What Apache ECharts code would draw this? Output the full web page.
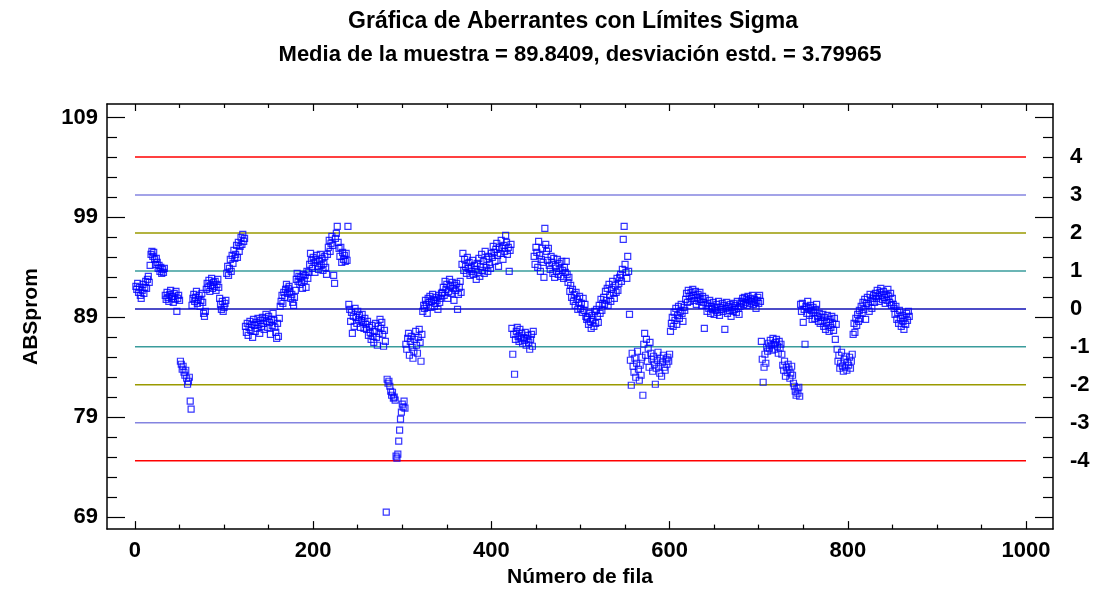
<!DOCTYPE html>
<html>
<head>
<meta charset="utf-8">
<script src="https://cdn.jsdelivr.net/npm/echarts@6.0.0/dist/echarts.min.js"></script>
<style>
  html, body { margin: 0; padding: 0; background: #fff; }
  #chart { width: 1095px; height: 593px; }
</style>
</head>
<body>
<div id="chart"></div>
<script>
// ABSprom por número de fila (fila = posición en la lista, empezando en 1)
const filas001a102 = [
  92.1, 91.8, 92.4, 91.5, 92.0, 91.2, 90.9, 91.7, 92.3, 91.4, 92.0, 92.6, 91.9, 92.8, 93.1, 92.5,
  94.2, 95.3, 95.6, 95.1, 95.5, 94.8, 94.3, 94.9, 94.5, 93.9, 94.2, 93.6, 94.0, 93.4, 93.8, 93.5, 93.9,
  91.2, 90.8, 91.5, 91.0, 90.6, 91.3, 91.7, 90.9, 91.1, 90.5, 91.4, 90.8, 91.6, 89.6, 90.9, 91.2, 90.7,
  84.6, 84.3, 83.8, 84.1, 83.5, 83.2, 83.7, 82.9, 82.3, 82.6, 83.0,
  80.6, 79.8,
  90.2, 90.9, 91.3, 90.6, 91.0, 91.6, 90.4, 90.8, 91.2, 90.1, 90.7, 91.4, 90.5, 89.4, 89.1, 89.6,
  91.8, 92.4, 92.0, 92.7, 91.6, 92.2, 92.9, 91.9, 92.5, 92.1, 92.6, 91.7, 92.3, 92.8, 92.0,
  90.9, 90.3, 89.8, 90.6, 89.6, 90.0, 90.4, 90.7
];
const filas103a239 = [
  93.4, 94.1, 93.2, 93.9, 94.8, 93.6, 95.2, 94.4, 95.7, 94.9, 95.3, 96.2, 95.0, 96.5, 95.6, 96.1, 97.0, 96.3, 97.3, 96.6, 96.9,
  88.1, 87.5, 88.4, 87.2, 88.0, 88.6, 87.7, 88.3, 87.0, 88.8, 88.2, 87.6, 88.5, 87.9, 88.9, 88.3, 87.4, 88.7, 88.1, 89.0,
  88.4, 87.8, 88.9, 89.3, 88.6, 88.0, 89.1, 88.5, 87.3, 88.8, 88.2, 89.4, 88.7, 88.0, 87.5, 86.9, 88.4, 87.1, 88.9,
  90.1, 90.6, 91.2, 90.4, 91.5, 91.0, 91.8, 92.3, 91.4, 91.9, 92.1, 91.6, 90.9, 91.3, 90.5, 90.2, 91.0, 91.7,
  92.8, 93.4, 92.6, 93.1, 92.3, 93.0, 92.5, 91.9, 93.3, 92.7, 93.2, 92.0, 93.6, 92.9, 93.5,
  94.3, 95.4, 94.7, 93.9, 95.0, 94.5, 93.5, 94.8, 95.2, 94.1, 93.8, 94.6, 95.3, 94.2, 94.9, 93.7, 94.4, 95.1, 94.0, 93.3,
  95.3, 96.0, 96.7, 95.6, 96.4, 97.1, 96.2, 93.2, 92.4, 96.9,
  97.4, 98.1, 96.5, 95.9, 95.1, 96.0, 94.5, 95.5, 94.8, 95.2, 94.6, 95.4, 94.7,
  98.1
];
const filas240a366 = [
  90.3, 89.8, 88.6, 89.5, 87.4, 89.1, 88.1, 89.9, 89.0, 88.4, 89.6, 88.8, 89.2, 88.0, 88.7, 89.3, 88.5, 87.9, 88.9,
  88.3, 87.8, 88.6, 87.2, 88.0, 87.5, 86.8, 88.2, 87.1, 86.5, 87.6, 88.4, 87.0, 86.2, 88.1, 87.4, 88.8, 87.9, 88.5, 87.3, 86.1, 87.7, 86.6,
  69.5,
  82.8, 82.4, 82.6, 82.1, 81.6, 81.2, 81.5, 80.9, 81.0, 80.7, 75.1, 74.9, 75.3, 76.6, 77.7, 78.8, 79.5, 80.3, 80.0, 80.6, 79.9,
  86.3, 85.8, 86.9, 87.4, 85.2, 86.6, 87.1, 86.0, 84.9, 85.6, 86.8, 87.6, 86.2, 85.4, 87.0, 87.8, 86.5, 84.6, 87.3,
  89.6, 90.2, 89.9, 90.7, 90.3, 89.4, 90.9, 90.5, 91.1, 90.0, 90.6, 91.3, 90.8, 90.1, 90.4, 91.0, 90.7, 89.8, 91.2, 90.5, 90.9, 91.4,
  91.5, 92.0, 91.2, 92.6, 91.8, 92.3, 90.9, 91.6, 92.8, 92.1, 91.4, 92.5, 91.9, 90.7, 92.2, 91.7, 92.4, 89.8, 91.3, 92.0, 92.6, 91.5
];
const filas367a460 = [
  94.3, 95.4, 93.7, 94.8, 94.1, 93.4, 95.0, 93.9, 94.5, 93.2, 94.0, 93.6, 94.7, 93.3, 94.2, 93.8, 92.8,
  94.4, 93.5, 94.9, 93.1, 94.1, 95.3, 93.7, 94.6, 93.4, 95.6, 94.0, 94.8, 93.6, 95.1, 94.3, 93.9, 95.4,
  95.0, 96.1, 95.5, 94.6, 95.8, 96.4, 95.2, 94.1, 96.0, 95.4, 96.7, 95.9, 94.8, 96.2, 95.6, 97.2, 96.5, 95.3, 96.0, 93.6, 95.7, 96.3,
  87.9, 85.3, 87.3, 83.3, 86.8, 87.6, 88.0, 87.1, 86.6, 87.8, 86.9, 87.4, 86.4, 87.0, 86.7, 87.5, 86.2, 86.9, 87.2, 86.5, 85.8, 86.8, 87.3, 86.1, 87.6,
  95.1, 94.3, 96.0, 95.5, 94.0, 96.6, 95.2, 93.6, 94.8, 95.9, 94.5, 93.0,
  97.9
];
const filas461a617 = [
  96.3, 95.6, 94.7, 95.9, 94.2, 93.8, 95.1, 94.5, 93.4, 94.9, 93.0, 94.1, 93.6, 94.8, 93.3, 94.4, 93.9, 93.1, 94.6, 93.7, 92.9, 94.0, 93.5,
  94.6, 93.3, 92.5, 93.0, 91.6, 92.2, 91.0, 91.8, 90.6, 91.3, 90.2, 91.5, 90.8, 89.8, 90.5, 91.1, 89.9, 90.4, 89.5, 90.9, 89.7, 90.3, 89.1, 88.8,
  89.0, 88.3, 89.4, 88.6, 87.9, 89.2, 88.8, 88.1, 89.6, 88.4, 89.8, 89.1, 88.5, 90.2, 89.4, 90.8, 89.7, 90.4,
  91.0, 90.3, 91.6, 90.7, 91.9, 90.2, 92.3, 91.2, 90.6, 91.8, 92.6, 91.4, 90.9, 92.2, 91.5, 92.9, 91.7, 92.4, 93.0,
  93.3, 92.6, 93.8, 96.8, 98.1, 94.3, 93.5, 92.9, 95.1, 93.6, 89.3,
  84.7, 82.2, 85.4, 84.1, 83.5, 84.9, 83.0, 84.4, 85.6, 83.8, 82.7, 84.2, 83.2, 85.0, 81.2, 86.3, 87.4, 85.2, 86.8, 84.6, 85.9, 84.0, 86.5,
  85.4, 84.8, 83.6, 85.1, 84.3, 82.3, 83.9, 84.7, 85.5, 84.1, 83.4, 84.9, 83.1, 84.5, 85.2, 84.0, 83.7, 84.8, 84.3, 85.0, 84.6, 85.3,
  87.6, 88.4, 89.0, 88.1, 89.5, 88.7, 89.9, 88.3, 89.2, 90.1, 88.9, 89.6, 90.3, 89.4, 88.6, 90.0, 89.7
];
const filas618a746 = [
  90.8, 91.4, 90.5, 91.7, 91.1, 90.6, 91.5, 90.9, 91.8, 91.2, 90.7, 91.6, 90.3, 91.0, 91.3, 90.6, 91.5, 90.8, 90.2, 91.1, 90.5, 87.9, 90.9,
  90.2, 89.6, 90.4, 89.9, 90.7, 89.4, 90.1, 89.8, 90.5, 89.3, 90.0, 89.7, 90.3, 89.5, 90.6, 89.2, 90.0, 89.8, 90.4, 89.6,
  90.2, 87.8, 89.9, 90.5, 89.4, 90.1, 89.7, 90.3, 89.1, 90.0, 89.6, 90.4, 89.8, 90.2, 89.5, 90.6, 89.9, 89.3, 90.1, 90.4,
  90.6, 90.9, 90.3, 91.0, 90.5, 90.8, 90.2, 91.1, 90.7, 90.4, 90.9, 90.6, 91.2, 90.3, 90.8, 90.5, 89.9, 90.7, 91.0, 90.4, 91.2, 90.6,
  86.6, 84.8, 82.5, 84.0, 85.3, 84.4, 86.0, 85.6, 86.4, 85.9, 86.7, 86.2, 85.7, 86.9, 86.3, 85.8, 86.5, 86.8, 86.1, 85.4, 86.6, 85.9, 86.3,
  85.3, 84.2, 83.7, 84.6, 83.1, 84.0, 83.5, 84.3, 83.8, 82.9, 83.4, 84.1, 83.2, 82.4, 82.1, 81.6, 81.2, 81.9, 81.4, 82.0, 81.1
];
const filas747a869 = [
  90.3, 89.6, 90.4, 88.5, 89.8, 86.3, 90.1, 89.4, 90.6, 89.9, 89.2, 90.2, 89.7, 88.8, 90.0, 89.5, 88.9, 89.8, 90.3, 89.1, 88.6, 89.4, 88.4, 89.0,
  88.6, 89.3, 88.1, 89.0, 87.8, 88.5, 89.2, 88.2, 87.6, 88.8, 88.0, 89.1, 88.4, 87.7, 88.9, 86.8, 88.3,
  85.8, 84.6, 85.2, 83.9, 84.4, 85.5, 84.1, 83.6, 84.8, 84.0, 85.1, 83.7, 84.5, 84.2, 85.0, 83.9, 84.6, 85.3,
  87.3, 88.4, 87.5, 88.9, 88.2, 89.3, 88.6, 89.7, 88.9, 90.1, 89.4, 90.5, 89.8, 90.8, 88.8, 90.4, 91.0, 90.2, 89.6, 91.3, 90.6, 89.9, 90.9, 91.2, 90.5,
  91.4, 90.9, 91.7, 91.1, 90.6, 91.5, 91.9, 91.2, 90.8, 91.6, 91.0, 90.4, 91.3, 90.7, 91.8, 91.1, 90.5, 91.4, 90.2, 90.9, 90.3,
  89.9, 89.3, 90.1, 88.8, 89.5, 88.4, 89.7, 88.9, 88.1, 89.2, 88.6, 87.8, 89.0, 88.3, 89.4, 88.7, 89.6, 89.1
];

// Estadísticos de la muestra y niveles sigma
const media = 89.8409;
const desviacion = 3.79965;
const nivelesSigma = [4, 3, 2, 1, 0, -1, -2, -3, -4];
const coloresSigma = { 4: '#ff0000', 3: '#8484e0', 2: '#9a9a00', 1: '#3a9c9c', 0: '#1010b4' };

// Marcas de los ejes
const marcasY = [69, 79, 89, 99, 109];
const marcasYMenores = [71, 73, 75, 77, 81, 83, 85, 87, 91, 93, 95, 97, 101, 103, 105, 107];
const marcasX = [0, 200, 400, 600, 800, 1000];
const marcasXMenores = [50, 100, 150, 250, 300, 350, 450, 500, 550, 650, 700, 750, 850, 900, 950];

const textos = {
  titulo: 'Gráfica de Aberrantes con Límites Sigma',
  subtitulo: 'Media de la muestra = 89.8409, desviación estd. = 3.79965',
  ejeX: 'Número de fila',
  ejeY: 'ABSprom'
};

const valores = [].concat(filas001a102, filas103a239, filas240a366, filas367a460,
  filas461a617, filas618a746, filas747a869);
const puntos = valores.map((v, i) => [i + 1, v]);

const fuente = "'Liberation Sans', Arial, sans-serif";
const X_MIN = -31.4, X_MAX = 1030.3;
const Y_MIN = 67.8, Y_MAX = 110.35;
const negro = '#000';

function linea(visible) {
  return { show: visible, onZero: false, lineStyle: { color: negro, width: 1.5 } };
}
function ejeX(pos, ticks, len, visible, extra) {
  return Object.assign({
    type: 'value', position: pos, min: X_MIN, max: X_MAX,
    splitLine: { show: false },
    axisLine: linea(visible),
    axisTick: { show: ticks.length > 0, inside: true, length: len, customValues: ticks, lineStyle: { color: negro, width: 1.2 } },
    axisLabel: { show: false }
  }, extra || {});
}
function ejeY(pos, ticks, len, visible, extra) {
  return Object.assign({
    type: 'value', position: pos, min: Y_MIN, max: Y_MAX,
    splitLine: { show: false },
    axisLine: linea(visible),
    axisTick: { show: ticks.length > 0, inside: true, length: len, customValues: ticks, lineStyle: { color: negro, width: 1.2 } },
    axisLabel: { show: false }
  }, extra || {});
}

const etiquetaEje = { show: true, color: negro, fontFamily: fuente, fontWeight: 'bold', fontSize: 22 };
const nombreEje = { fontFamily: fuente, fontWeight: 'bold', fontSize: 21, color: negro };

const lineasSigma = nivelesSigma.map(k => ({
  type: 'line',
  xAxisIndex: 0, yAxisIndex: 0,
  data: [[0, media + k * desviacion], [1000, media + k * desviacion]],
  showSymbol: false, silent: true, z: 1,
  lineStyle: { color: coloresSigma[Math.abs(k)], width: 1.5 }
}));

const chart = echarts.init(document.getElementById('chart'), null, { renderer: 'canvas' });
chart.setOption({
  animation: false,
  backgroundColor: '#fff',
  title: [
    { text: textos.titulo, left: 568, top: 5, textAlign: 'center',
      textStyle: { fontFamily: fuente, fontWeight: 'bold', fontSize: 23, color: negro } },
    { text: textos.subtitulo, left: 575, top: 39, textAlign: 'center',
      textStyle: { fontFamily: fuente, fontWeight: 'bold', fontSize: 22, color: negro } }
  ],
  grid: { left: 107, right: 42, top: 104, bottom: 62, show: false },
  xAxis: [
    ejeX('bottom', marcasX, 8, true, {
      axisLabel: Object.assign({ customValues: marcasX, margin: 11, formatter: v => String(v) }, etiquetaEje),
      name: textos.ejeX, nameLocation: 'middle', nameGap: 35, nameTextStyle: nombreEje
    }),
    ejeX('bottom', marcasXMenores, 4.5, false),
    ejeX('top', marcasX, 7, true),
    ejeX('top', marcasXMenores, 4, false)
  ],
  yAxis: [
    ejeY('left', marcasY, 18, true, {
      axisLabel: Object.assign({ customValues: marcasY, margin: 9, formatter: v => String(v) }, etiquetaEje),
      name: textos.ejeY, nameLocation: 'middle', nameGap: 65, nameRotate: 90, nameTextStyle: nombreEje
    }),
    ejeY('left', marcasYMenores, 10, false),
    ejeY('right', marcasY, 18, true),
    ejeY('right', marcasYMenores, 10, false),
    ejeY('right', [], 0, false, {
      axisLabel: Object.assign({
        customValues: nivelesSigma.map(k => media + k * desviacion),
        margin: 17,
        formatter: v => String(Math.round((v - media) / desviacion))
      }, etiquetaEje)
    })
  ],
  series: lineasSigma.concat([{
    type: 'scatter',
    xAxisIndex: 0, yAxisIndex: 0,
    data: puntos,
    symbol: 'rect',
    symbolSize: 6,
    z: 3,
    itemStyle: { color: 'rgba(255,255,255,0)', borderColor: '#0000ff', borderWidth: 1.2 }
  }])
});
</script>
</body>
</html>
